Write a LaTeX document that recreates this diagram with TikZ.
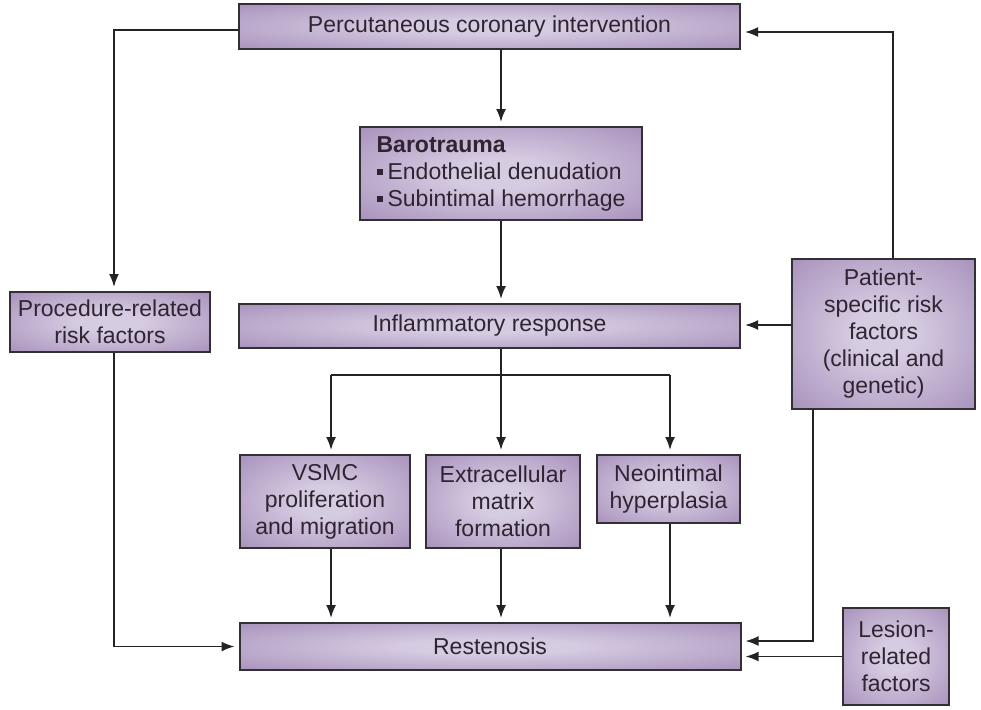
\documentclass[tikz,border=0pt]{standalone}
\usepackage{fontspec}
\setmainfont{Liberation Sans}
\usetikzlibrary{arrows.meta}
\definecolor{boxout}{RGB}{150,124,170}
\definecolor{boxmid}{RGB}{178,158,196}
\definecolor{boxin}{RGB}{214,204,226}
\definecolor{edgec}{RGB}{50,48,52}
\definecolor{txt}{RGB}{48,36,50}
\definecolor{linec}{RGB}{35,35,35}
\pgfdeclareradialshading{boxshade}{\pgfpoint{0bp}{0bp}}{color(0bp)=(boxin); color(8bp)=(boxin); color(30bp)=(boxmid); color(45bp)=(boxout); color(50bp)=(boxout)}
\newcommand{\sqbul}{\rule[4pt]{6pt}{6pt}\hspace{5pt}}
\begin{document}
\begin{tikzpicture}[x=1pt,y=-1pt,
  box/.style={draw=edgec, line width=2pt, shading=boxshade, text=txt,
    font=\fontsize{23}{27}\selectfont, align=center, inner sep=0pt},
  conn/.style={draw=linec, line width=1.8pt},
  arr/.style={conn, -{Latex[length=13pt,width=10pt]}, shorten >=4pt}]
\useasboundingbox (0,0) rectangle (981,709);

\node[box, minimum width=501pt, minimum height=45pt] (pci) at (489.5,26.5) {Percutaneous coronary intervention};
\node[box, minimum width=282pt, minimum height=93pt, align=left] (baro) at (501,173.5) {\textbf{Barotrauma}\\\sqbul Endothelial denudation\\\sqbul Subintimal hemorrhage};
\node[box, minimum width=200pt, minimum height=60pt] (proc) at (110,322) {Procedure-related\\risk factors};
\node[box, minimum width=501pt, minimum height=44pt] (infl) at (489.5,326) {Inflammatory response};
\node[box, minimum width=183pt, minimum height=150pt] (pat) at (883.5,334) {Patient-\\specific risk\\factors\\(clinical and\\genetic)};
\node[box, minimum width=170pt, minimum height=93pt] (vsmc) at (325,501.5) {VSMC\\proliferation\\and migration};
\node[box, minimum width=154pt, minimum height=93pt] (ecm) at (503,501.5) {Extracellular\\matrix\\formation};
\node[box, minimum width=143pt, minimum height=68pt] (neo) at (668.5,489) {Neointimal\\hyperplasia};
\node[box, minimum width=501pt, minimum height=47pt] (rest) at (490,646.5) {Restenosis};
\node[box, minimum width=106pt, minimum height=97pt] (les) at (896,656.5) {Lesion-\\related\\factors};

\coordinate (pt) at (893,32);
\coordinate (b1) at (331,375);
\coordinate (b2) at (501,375);
\coordinate (b3) at (670,375);
\coordinate (pb) at (813,641);

\draw[arr] ([yshift=-3.5pt]pci.west) -| ([xshift=4pt]proc.north);
\draw[arr] (baro.north |- pci.south) -- (baro.north);
\draw[arr] (baro.south) -- (baro.south |- infl.north);
\draw[arr] (pat.north -| pt) -- (pt) -- (pci.east |- pt);
\draw[arr] ([yshift=9pt]pat.west) -- ([yshift=9pt]pat.west -| infl.east);
\draw[conn] (infl.south -| b2) -- (b2);
\draw[conn] (b1) -- (b3);
\draw[arr] (b1) -- (vsmc.north -| b1);
\draw[arr] (b2) -- (ecm.north -| b2);
\draw[arr] (b3) -- (neo.north -| b3);
\draw[arr] (vsmc.south -| b1) -- (rest.north -| b1);
\draw[arr] (ecm.south -| b2) -- (rest.north -| b2);
\draw[arr] (neo.south -| b3) -- (rest.north -| b3);
\draw[arr] ([xshift=4pt]proc.south) |- (rest.west);
\draw[arr] (pat.south -| pb) |- (rest.east |- pb);
\draw[arr] (les.west) -- (les.west -| rest.east);
\end{tikzpicture}
\end{document}
